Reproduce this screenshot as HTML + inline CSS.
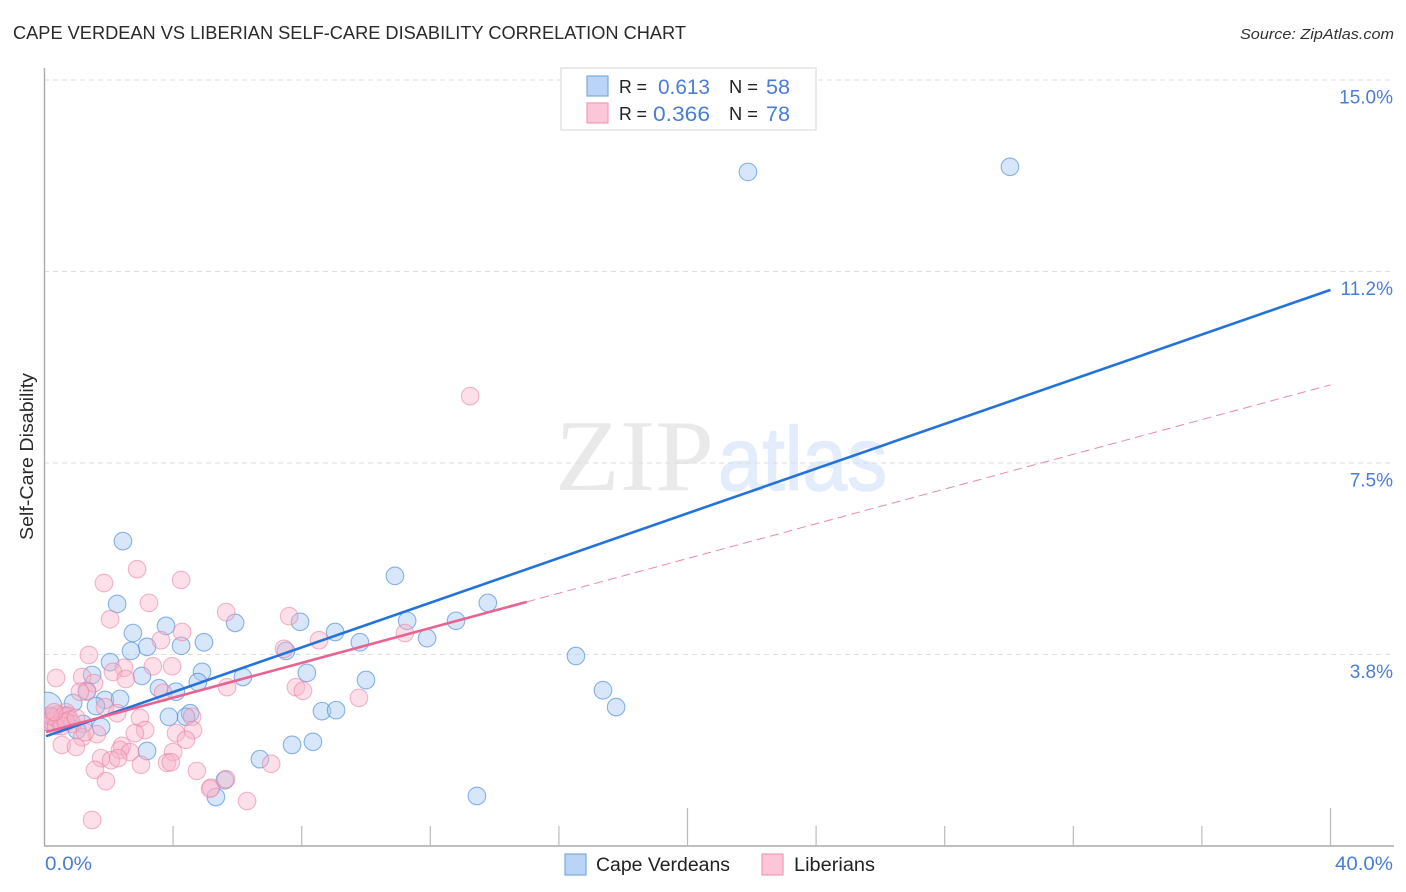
<!DOCTYPE html>
<html lang="en">
<head>
<meta charset="utf-8">
<title>Cape Verdean vs Liberian Self-Care Disability Correlation Chart</title>
<style>
html,body{margin:0;padding:0;background:#fff;}
body{width:1406px;height:892px;overflow:hidden;}
svg{display:block;font-family:"Liberation Sans",sans-serif;}
</style>
</head>
<body>
<svg id="chart" width="1406" height="892" viewBox="0 0 1406 892" xmlns="http://www.w3.org/2000/svg">
  <defs>
    <clipPath id="plot-clip"><rect x="44" y="60" width="1350" height="786"></rect></clipPath>
  </defs>
  <rect x="0" y="0" width="1406" height="892" fill="#ffffff"></rect>

  <g>
    <text x="555" y="490" font-family="'Liberation Serif',serif" font-size="102" fill="#e9e9e9" textLength="159" lengthAdjust="spacingAndGlyphs">ZIP</text>
    <text x="718" y="490" font-size="90" fill="#e2ecfa" stroke="#e2ecfa" stroke-width="1.5" textLength="169" lengthAdjust="spacingAndGlyphs">atlas</text>
  </g>

  <g id="grid"></g>
  <g id="axes"></g>
  <g id="points-cape" clip-path="url(#plot-clip)"></g>
  <g id="points-liberian" clip-path="url(#plot-clip)"></g>
  <g id="trends"></g>
  <g id="y-ticks"></g>

  <text x="13" y="39" font-size="18.5" fill="#2a2a2a" textLength="673" lengthAdjust="spacingAndGlyphs">CAPE VERDEAN VS LIBERIAN SELF-CARE DISABILITY CORRELATION CHART</text>
  <text x="1394" y="39" font-size="15" font-style="italic" fill="#333" text-anchor="end" textLength="154" lengthAdjust="spacingAndGlyphs">Source: ZipAtlas.com</text>
  <text transform="translate(33,456.5) rotate(-90)" font-size="18" fill="#2a2a2a" text-anchor="middle" textLength="167" lengthAdjust="spacingAndGlyphs">Self-Care Disability</text>
  <text x="45" y="870" font-size="19" fill="#4a7dd6" textLength="47" lengthAdjust="spacingAndGlyphs">0.0%</text>
  <text x="1393" y="870" font-size="19" fill="#4a7dd6" text-anchor="end" textLength="58" lengthAdjust="spacingAndGlyphs">40.0%</text>

  <g>
    <rect x="561" y="68" width="255" height="62" fill="#ffffff" stroke="#e4e4e4" stroke-width="1.5"></rect>
    <rect x="587" y="76" width="21" height="20" fill="#b9d4f6" stroke="#7ba9e0" stroke-width="1.2"></rect>
    <rect x="587" y="103" width="21" height="20" fill="#fcc6d8" stroke="#ee9db8" stroke-width="1.2"></rect>
    <text x="619" y="93" font-size="18" fill="#222" textLength="28" lengthAdjust="spacingAndGlyphs">R =</text>
    <text x="710" y="94" font-size="21" fill="#4a7dd6" text-anchor="end" textLength="52" lengthAdjust="spacingAndGlyphs">0.613</text>
    <text x="729" y="93" font-size="18" fill="#222" textLength="29" lengthAdjust="spacingAndGlyphs">N =</text>
    <text x="766" y="94" font-size="21" fill="#4a7dd6" textLength="24" lengthAdjust="spacingAndGlyphs">58</text>
    <text x="619" y="120" font-size="18" fill="#222" textLength="28" lengthAdjust="spacingAndGlyphs">R =</text>
    <text x="710" y="121" font-size="21" fill="#4a7dd6" text-anchor="end" textLength="57" lengthAdjust="spacingAndGlyphs">0.366</text>
    <text x="729" y="120" font-size="18" fill="#222" textLength="29" lengthAdjust="spacingAndGlyphs">N =</text>
    <text x="766" y="121" font-size="21" fill="#4a7dd6" textLength="24" lengthAdjust="spacingAndGlyphs">78</text>
  </g>

  <g>
    <rect x="565" y="854" width="21" height="21" fill="#b9d4f6" stroke="#7ba9e0" stroke-width="1.2"></rect>
    <text x="596" y="871" font-size="19" fill="#222" textLength="134" lengthAdjust="spacingAndGlyphs">Cape Verdeans</text>
    <rect x="762" y="854" width="21" height="21" fill="#fcc6d8" stroke="#ee9db8" stroke-width="1.2"></rect>
    <text x="794" y="871" font-size="19" fill="#222" textLength="81" lengthAdjust="spacingAndGlyphs">Liberians</text>
  </g>
</svg>

<script>
// Data (x and y in percent)
const capeX = [30.03,21.88,2.44,10.90,2.26,13.79,3.78,5.93,7.95,11.28,12.80,2.75,9.04,11.90,4.96,9.81,3.19,4.25,2.69,7.51,16.53,2.04,1.48,3.03,4.90,8.16,6.17,10.00,4.77,3.56,4.09,1.32,17.37,1.88,2.35,0.89,1.60,17.78,8.63,9.07,4.53,4.40,3.87,1.76,1.20,1.01,7.70,8.35,3.19,6.70,5.61,5.33,13.45,0.08,0.26,0.42,0.11,0.64];
const capeY = [13.30,13.20,5.97,5.29,4.74,4.76,4.31,4.37,4.39,4.41,4.41,4.17,4.19,4.07,3.99,3.99,3.90,3.92,3.82,3.82,3.72,3.60,3.35,3.33,3.41,3.39,3.31,3.25,3.21,3.09,3.02,3.04,3.05,2.86,2.88,2.80,2.74,2.72,2.64,2.66,2.60,2.53,2.53,2.33,2.39,2.27,1.98,2.04,1.86,1.70,1.29,0.96,0.98,2.72,2.53,2.47,2.43,2.55];
const capeWeight = [1,1,1,1,1,1,1,1,1,1,1,1,1,1,1,1,1,1,1,1,1,1,1,1,1,1,1,1,1,1,1,1,1,1,1,1,1,1,1,1,1,1,1,1,1,1,1,1,1,1,1,1,1,1.7,1,1,1,1];

const liberianX = [2.88,1.85,4.25,3.25,2.04,5.65,7.61,4.28,3.62,8.54,7.45,1.38,2.47,3.37,3.97,2.13,2.53,0.36,1.17,1.54,1.32,1.10,5.68,7.82,8.04,3.69,1.88,2.26,4.59,2.97,3.13,2.81,4.62,4.09,4.40,1.63,1.17,0.54,0.98,2.41,2.35,2.66,1.76,2.07,2.29,1.57,1.91,3.00,4.00,3.81,3.93,4.74,5.18,5.15,5.65,7.05,6.30,1.48,13.24,9.78,11.21,0.11,0.23,0.33,0.42,0.48,0.58,0.67,0.73,0.79,0.86,0.17,0.36,0.54,0.67,0.98,1.26,0.30];
const liberianY = [5.42,5.15,5.21,4.76,4.44,4.58,4.50,4.19,4.03,4.03,3.86,3.74,3.49,3.52,3.52,3.41,3.27,3.29,3.31,3.19,3.02,3.02,3.11,3.11,3.04,3.00,2.72,2.60,2.53,2.51,2.27,2.21,2.27,2.21,2.08,2.19,2.13,1.98,1.94,1.96,1.88,1.84,1.72,1.68,1.72,1.49,1.27,1.59,1.84,1.63,1.64,1.47,1.14,1.12,1.31,1.61,0.88,0.51,8.81,2.90,4.17,2.43,2.43,2.51,2.57,2.43,2.55,2.62,2.55,2.47,2.39,2.55,2.35,2.35,2.43,2.51,2.23,2.62];

// Trend line end points: [x start, x end], [y start, y end]
const capeTrendX = [0.05, 40];
const capeTrendY = [2.15, 10.89];
const liberianSolidX = [0.05, 15];
const liberianSolidY = [2.23, 4.78];
const liberianDashX = [15, 40];
const liberianDashY = [4.78, 9.03];

// Axis values and labels
const yTickValues = [15, 11.25, 7.5, 3.75];
const yTickLabels = ['15.0%', '11.2%', '7.5%', '3.8%'];
const xTickValues = [4, 8, 12, 16, 20, 24, 28, 32, 36, 40];
const xMajorTicks = [20, 40];

// Axis functions
const X0 = 44.5, X40 = 1330.5, Y0 = 846, Y15 = 80;
function sx(v) { return X0 + (X40 - X0) * v / 40; }
function sy(v) { return Y0 - (Y0 - Y15) * v / 15; }

const NS = 'http://www.w3.org/2000/svg';
function make(tag, attrs, parent) {
  const el = document.createElementNS(NS, tag);
  for (const k in attrs) el.setAttribute(k, attrs[k]);
  parent.appendChild(el);
  return el;
}

// Grid lines and y tick labels
const gridG = document.getElementById('grid');
const yTickG = document.getElementById('y-ticks');
yTickValues.forEach(function (v, i) {
  const line = make('line', {x1: 44, x2: 1393, y1: sy(v), y2: sy(v), stroke: '#dedede', 'stroke-width': 1, 'stroke-dasharray': '5 4'}, gridG);
  
  
  const t = make('text', {x: 1393, y: sy(v) + 23.5, 'font-size': 19, fill: '#4a7dd6', 'text-anchor': 'end'}, yTickG);
  
  
  t.textContent = yTickLabels[i];
});

// Axes and x ticks
const axesG = document.getElementById('axes');
const leftAxis = make('line', {x1: 44.5, x2: 44.5, y1: 68, y2: 846.5, stroke: '#aaaaaa', 'stroke-width': 1.4}, axesG);


const bottomAxis = make('line', {x1: 44, x2: 1394, y1: 846, y2: 846, stroke: '#aaaaaa', 'stroke-width': 1.4}, axesG);


xTickValues.forEach(function (v) {
  const major = xMajorTicks.indexOf(v) >= 0;
  const tick = make('line', {x1: sx(v), x2: sx(v), y1: major ? 808 : 826, y2: 846, stroke: '#bbbbbb', 'stroke-width': 1.2}, axesG);
  
  
});

// Scatter points
const capeG = document.getElementById('points-cape');
capeX.forEach(function (v, i) {
  const c = make('circle', {cx: sx(v), cy: sy(capeY[i]), r: 8.8 * capeWeight[i], fill: '#a8c8f2', 'fill-opacity': 0.45, stroke: '#3f86d8', 'stroke-opacity': 0.6, 'stroke-width': 1.1}, capeG);
  
  
});
const liberianG = document.getElementById('points-liberian');
liberianX.forEach(function (v, i) {
  const c = make('circle', {cx: sx(v), cy: sy(liberianY[i]), r: 8.8, fill: '#f9b2c9', 'fill-opacity': 0.42, stroke: '#e77da2', 'stroke-opacity': 0.55, 'stroke-width': 1.1}, liberianG);
  
  
});

// Trend lines
const trendG = document.getElementById('trends');
const dashLine = make('line', {x1: sx(liberianDashX[0]), y1: sy(liberianDashY[0]), x2: sx(liberianDashX[1]), y2: sy(liberianDashY[1]), stroke: '#e98bab', 'stroke-width': 1, 'stroke-dasharray': '9 5'}, trendG);


const capeLine = make('line', {x1: sx(capeTrendX[0]), y1: sy(capeTrendY[0]), x2: sx(capeTrendX[1]), y2: sy(capeTrendY[1]), stroke: '#2473d9', 'stroke-width': 2.6}, trendG);


const libLine = make('line', {x1: sx(liberianSolidX[0]), y1: sy(liberianSolidY[0]), x2: sx(liberianSolidX[1]), y2: sy(liberianSolidY[1]), stroke: '#e8638f', 'stroke-width': 2.6}, trendG);


</script>
</body>
</html>
